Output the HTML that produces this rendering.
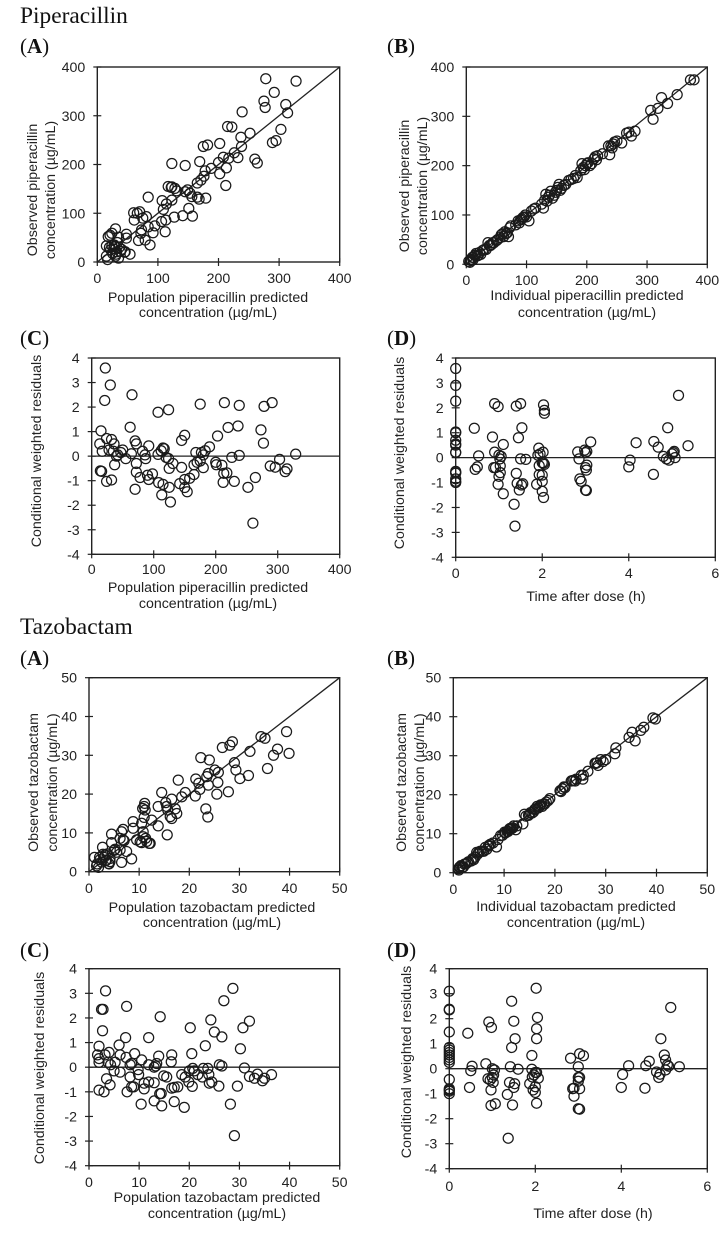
<!DOCTYPE html>
<html lang="en">
<head>
<meta charset="utf-8">
<title>Piperacillin and tazobactam diagnostic plots</title>
<style>
html,body{margin:0;padding:0;background:#fff;width:727px;height:1233px;overflow:hidden}
svg{display:block;position:absolute;left:0;top:0}
text{font-family:"Liberation Sans",sans-serif;fill:#222}
.head{font-family:"Liberation Serif",serif;fill:#111}
</style>
</head>
<body>
<svg id="figure" width="727" height="1233" viewBox="0 0 727 1233" xmlns="http://www.w3.org/2000/svg">
<text class="head" x="20" y="23" font-size="23.4">Piperacillin</text>
<text class="head" x="20" y="53" font-size="21">(<tspan font-weight="bold">A</tspan>)</text>
<text class="head" x="387" y="53" font-size="21">(<tspan font-weight="bold">B</tspan>)</text>
<text class="head" x="20" y="345" font-size="21">(<tspan font-weight="bold">C</tspan>)</text>
<text class="head" x="387" y="345" font-size="21">(<tspan font-weight="bold">D</tspan>)</text>
<text class="head" x="20" y="634" font-size="23.4">Tazobactam</text>
<text class="head" x="20" y="665" font-size="21">(<tspan font-weight="bold">A</tspan>)</text>
<text class="head" x="387" y="665" font-size="21">(<tspan font-weight="bold">B</tspan>)</text>
<text class="head" x="20" y="957" font-size="21">(<tspan font-weight="bold">C</tspan>)</text>
<text class="head" x="387" y="957" font-size="21">(<tspan font-weight="bold">D</tspan>)</text>
</svg>
<script>
// Tick labels
const pipConcTicks = [0,100,200,300,400];
const tazConcTicks = [0,10,20,30,40,50];
const residualTicks = [-4,-3,-2,-1,0,1,2,3,4];
const timeTicks = [0,2,4,6];

// Piperacillin A: population predicted vs observed
const pipAPred = [278,328,292,275,277,311,314,239,303,215,222,252,237,289,295,202,182,175,238,226,232,217,208,200,188,213,202,260,264,123,145,169,178,176,171,165,212,117,123,128,149,131,145,153,156,165,168,179,84,107,123,114,109,151,60,66,70,61,81,75,141,157,127,113,106,95,84,112,92,73,72,68,79,87,30,48,48,21,24,15,35,29,24,32,46,54,40,15,17,35,31,122,20,28,38,30,22,25,45,33,18,27,36];
const pipAObs = [376,371,348,330,317,323,306,308,272,278,277,264,256,245,249,243,240,237,237,224,214,213,215,204,192,193,181,211,203,202,198,206,187,176,168,162,157,155,154,151,148,146,144,141,134,133,129,131,133,126,127,119,108,110,101,100,103,86,93,90,95,94,92,86,83,74,72,62,60,66,59,44,45,35,68,57,49,55,59,33,51,31,33,21,21,16,26,12,5,8,16,153,30,35,22,12,25,18,20,40,52,27,30];

// Piperacillin B: individual predicted vs observed
const pipBPred = [6,7,8,10,12,14,16,18,20,24,27,30,36,38,40,44,46,52,56,60,62,64,66,70,72,74,88,90,92,94,96,100,104,108,112,128,130,132,134,136,138,140,143,146,150,154,156,158,162,170,178,184,190,192,194,198,202,205,208,214,216,218,226,238,240,242,244,250,258,266,274,280,306,310,318,324,334,350,372,378,4,11,15,22,33,42,50,58,68,82,86,98,115,125,148,152,165,174,181,196,200,212,236,246,270];
const pipBObs = [4,10,8,14,14,18,22,17,18,20,28,30,44,38,38,44,44,50,54,62,56,66,62,56,74,78,84,90,92,95,96,96,88,108,112,114,130,142,128,136,140,148,134,140,150,162,150,154,160,170,174,176,190,204,196,200,206,200,204,218,212,220,224,222,240,236,244,250,246,266,260,270,312,294,316,338,326,344,374,374,6,9,18,24,30,40,48,60,64,80,88,100,114,122,146,156,162,172,180,192,204,214,240,248,268];

// Piperacillin C: population predicted vs CWRES
const pipCPred = [22,30,21,65,107,124,175,214,238,278,291,15,62,220,236,273,277,203,150,145,70,72,13,24,32,36,28,17,35,50,47,42,40,64,55,37,72,72,78,70,16,14,24,32,82,86,87,92,107,112,115,117,120,124,125,131,90,92,98,108,113,115,125,127,142,145,150,150,154,158,165,165,168,170,175,177,180,183,190,180,200,201,210,213,218,212,230,226,238,252,264,260,288,296,303,312,315,329];
const pipCRes = [3.59,2.9,2.27,2.5,1.79,1.89,2.12,2.18,2.07,2.03,2.18,1.03,1.18,1.17,1.23,1.07,0.53,0.82,0.85,0.64,0.62,0.5,0.5,0.72,0.68,0.5,0.25,0.2,0.2,0.25,0.15,0.05,0,0.1,-0.1,-0.35,-0.3,-0.65,-0.87,-1.35,-0.62,-0.6,-1.03,-0.97,0.2,0.05,-0.1,0.42,0.07,0.22,0.33,0.3,-0.05,-0.1,-0.5,-0.3,-0.78,-0.95,-0.72,-1.08,-1.58,-1.15,-1.27,-1.87,-1.12,-0.46,-0.95,-1.28,-1.45,-0.9,-0.75,-0.35,0.15,-0.25,-0.2,0.15,0.05,0.22,0.38,-0.47,-0.25,-0.35,-0.37,-0.7,-0.68,-1.07,-1.03,-0.05,0.03,-1.27,-0.87,-2.73,-0.4,-0.45,-0.13,-0.63,-0.52,0.08];

// Piperacillin D: time vs CWRES
const pipDTime = [0,0,0,0,0,0,0,0,0,0,0,0,0,0,0,0,0.43,0.45,0.5,0.53,0.85,0.9,0.98,0.9,1,1.05,1.1,0.88,0.92,1.03,1.03,1,0.98,1.1,1.02,1.35,1.37,1.4,1.42,1.4,1.5,1.53,1.45,1.5,1.62,1.47,1.52,1.55,1.87,1.9,1.92,1.95,2.02,1.93,1.93,2,2,2,2.03,2.03,2.05,2.05,2,2.03,2.05,2.82,2.87,2.9,2.85,2.98,3,3.03,3,3.03,3.02,3,3.02,3.12,4,4.03,4.17,4.57,4.58,4.68,4.8,4.87,4.9,4.93,5,5.03,5.05,5.07,5.15,5.37];
const pipDRes = [3.58,2.9,2.27,1.03,1,0.7,0.55,0.5,0.22,0.2,-0.55,-0.6,-0.85,-0.95,-1,-0.62,1.18,-0.47,-0.37,0.07,0.83,2.17,2.05,0.22,0.1,0.05,0.53,-0.4,-0.4,-0.33,-0.6,-0.75,-1.07,-1.45,-0.05,-1.87,-2.75,-0.63,-1.03,2.07,2.17,1.2,0.8,-0.05,-0.07,-1.3,-1.1,-1.05,-1.07,0.1,0.38,0.15,0.22,-0.32,-0.68,-0.7,-0.95,-1.35,-1.6,2.12,1.9,1.78,-0.2,-0.22,-0.27,0.23,-0.85,-0.95,-0.05,0.3,0.2,0.25,-0.4,-0.3,-0.5,-1.3,-1.32,0.63,-0.37,-0.1,0.6,-0.67,0.65,0.42,0.05,-0.05,1.2,-0.1,0.15,0.2,0.25,0,2.5,0.48];

// Tazobactam A: population predicted vs observed
const tazAPred = [39.4,39.9,37.6,36.8,35.6,34.3,35.1,32.1,31.8,30.1,29.3,29,28.6,28.1,26.6,27.8,22.3,24,25.1,23.8,25.8,23.5,25.7,25.5,21.3,17.8,21.9,23.8,22.1,21.2,23.3,23.7,14.5,19.2,18.5,16.5,15.3,11.1,11,13.8,15.5,15.7,17.2,17.5,16.2,16.5,11.2,10.7,11,12.5,13.8,15.6,8.8,8.8,10.5,10.8,10.8,10.2,9.5,11.3,12.2,12,4.5,6.8,6.5,6.2,6.8,4.5,2.7,5.2,6.2,7.5,8.5,6.5,1.1,2.1,3.2,4.2,3.5,3.9,1.5,1.9,4.2,2.5,3,3.3,2.8,1.6,5.5,4,5,7,10.5,11.5,2.2,3.7];
const tazAObs = [36.1,30.5,31.6,30,26.6,34.8,34.4,31,24.8,24,26.2,28.1,33.5,32.6,32,20.6,29.4,28.8,26.2,25.3,25.6,24.5,23,20,23.9,23.6,22.8,22.3,21.2,19.5,16.2,14.1,20.4,20.4,19.3,18.7,17.8,17.6,16.8,16.8,16.8,15.9,16.2,15,14.2,13.7,15.9,16.3,14,13.3,11.8,9.5,12.9,11.2,12.5,10.3,9,7.7,8.2,8.6,7.3,7.3,9.7,10.9,10.3,8.6,8.2,7.5,6.3,5.8,5.6,5.2,3.3,2.4,3.7,3.7,4.3,3.4,3,2.1,1.5,1.1,2.6,2.5,3.7,2.8,4.5,2,5,2,5.5,8,7.5,7.8,3.1,4.6];

// Tazobactam B: individual predicted vs observed
const tazBPred = [1,1.1,1.3,1.5,2,2.5,3,3.5,4,4.3,4.6,4.8,5,6,6.3,6.6,7,7.3,8.5,8.8,9.3,10.3,10.8,11,11.3,11.7,12.3,12.5,13.7,14,14.3,15,15.5,16,16.5,17,17.5,18,18.7,19,21.2,21.5,22,23.2,23.7,24,25.5,25.6,26.5,28,28.5,29,30,31.8,32,34.6,35.2,35.8,36.9,37.5,39.3,39.8,1.2,1.8,2.2,2.8,3.8,5.3,5.7,6.9,7.8,9.7,10.1,10.6,11.1,11.5,11.9,14.8,15.2,15.8,16.2,16.7,17.2,17.8,18.3,21,21.8,23.4,24.2,25.2,27.9,28.3,29.5];
const tazBObs = [1,0.7,1.5,1.8,1.5,2.3,2.8,3,3.3,4,5.2,4.8,5.2,5.5,6.5,6,7,7.3,6.6,8.5,9.5,10.2,10.6,11,11.4,11.5,11,12,12.5,15,14.5,15,15.3,16.2,17,17,17,17.6,18.5,19,20.8,21.5,21.8,23.5,23.7,23.5,24,25,26,28,27.5,29,29,30.5,32,34.7,36,33.8,36.5,37.3,39.7,39.4,1.4,1.4,2.2,2.6,3.6,5.5,5.5,6.8,7.6,9.6,10.4,10.6,11.3,11.3,12,14.7,15.4,15.6,16.4,16.6,17.4,17.6,18.1,21,22,23.6,24,25,28.1,28.2,28.5];

// Tazobactam C: population predicted vs CWRES
const tazCPred = [3.3,2.5,2.8,7.5,14.2,2.7,7.3,11.9,2,6,1.7,2,2,3.2,4,3.8,4.3,5.2,6.2,7.4,8.2,8.5,9.1,10.5,11.9,13,13.3,13.5,13.9,16.5,16.4,20.5,20.2,23.2,24.3,25,26.5,26.9,28.7,30.7,32,30.2,26,26.5,31,32,33,33.6,34.6,35,36.4,29.6,28.2,29,25.9,24.5,24,23.9,23.7,22.8,22.6,21.7,21,20.7,20,20.6,19.9,19.2,18.5,19,17,14.5,13,14.1,14.4,10.4,7.6,8.2,8.5,8.9,11,11,11.9,13,14.9,15.5,16.5,17,17.7,9.8,9.9,5,6.2,2,3,3.5,4.2];
const tazCRes = [3.1,2.35,2.35,2.47,2.05,1.48,1.2,1.2,0.85,0.9,0.5,0.35,0.2,0.5,0.6,0.2,0.1,0.2,0.5,0.4,0.1,0.15,0.55,0.3,0.1,0,0.05,0.15,0.45,0.5,0.22,0.55,1.6,0.87,1.92,1.43,1.23,2.7,3.2,1.6,1.87,0.75,0.1,0.05,-0.03,-0.38,-0.45,-0.28,-0.55,-0.45,-0.3,-0.77,-1.5,-2.78,-0.77,-0.6,-0.65,-0.3,-0.05,-0.05,-0.4,-0.3,-0.15,-0.05,-0.15,-0.78,-0.6,-0.4,-0.3,-1.63,-1.4,-1.57,-1.37,-1.08,-1.07,-1.5,-1,-0.4,-0.8,-0.8,-0.88,-0.65,-0.6,-0.63,-0.35,-0.4,-0.85,-0.82,-0.8,-0.1,-0.3,-0.15,-0.2,-0.93,-1,-0.47,-0.72];

// Tazobactam D: time vs CWRES
const tazDTime = [0,0,0,0,0,0,0,0,0,0,0,0,0,0,0,0,0.43,0.47,0.5,0.53,0.85,0.92,0.98,0.97,1.07,0.97,1,1.05,0.9,0.95,1,1.03,1.02,1.35,1.37,1.42,1.4,1.45,1.45,1.5,1.53,1.47,1.52,1.5,1.6,1.87,1.92,1.93,1.92,1.97,2,2.02,2.05,2.03,2.03,2,2,2.03,2.03,2.07,1.95,2.82,2.87,2.9,2.9,3,3.03,3.12,3,3.03,3,3.03,3,3.03,4,4.03,4.17,4.55,4.57,4.65,4.82,4.9,4.87,4.92,5,5.03,5.03,5.07,5.1,5.15,5.35];
const tazDRes = [3.1,2.38,2.35,1.47,0.85,0.75,0.65,0.55,0.45,0.35,0.25,-0.43,-0.8,-0.85,-0.9,-1,1.42,-0.75,-0.08,0.1,0.2,1.87,1.65,-1.47,-1.4,-0.85,0,-0.05,-0.4,-0.45,-0.35,-0.25,-0.55,-1.03,-2.78,0.08,-0.55,2.7,0.85,1.9,1.2,-1.45,-0.6,-0.75,-0.02,-0.6,0.53,-0.33,-0.02,-0.25,-0.15,3.22,2.05,1.6,1.2,-0.72,-0.95,-1.38,-0.15,-0.38,-0.85,0.42,-0.8,-0.78,-1.1,0.08,0.6,0.52,-0.35,-0.35,-0.5,-0.8,-1.6,-1.62,-0.75,-0.23,0.12,-0.78,0.12,0.3,-0.13,-0.22,-0.35,1.2,0.55,0.35,-0.05,0.15,0.1,2.45,0.08];

const panels = [
  {id:'piperacillin-a',l:97.3,r:339.7,t:67,b:262,xs:pipAPred,ys:pipAObs,xt:pipConcTicks,yt:pipConcTicks,ref:'diag',yl:[[32,'Observed piperacillin'],[50,'concentration (µg/mL)']],yc:190,xl:['Population piperacillin predicted','concentration (µg/mL)'],xc:208,xb:[302,317],tb:283},
  {id:'piperacillin-b',l:466.3,r:707.3,t:67,b:264.3,xs:pipBPred,ys:pipBObs,xt:pipConcTicks,yt:pipConcTicks,ref:'diag',yl:[[404,'Observed piperacillin'],[422,'concentration (µg/mL)']],yc:186,xl:['Individual piperacillin predicted','concentration (µg/mL)'],xc:587,xb:[300,317],tb:285},
  {id:'piperacillin-c',l:91.7,r:339.7,t:358,b:554.3,xs:pipCPred,ys:pipCRes,xt:pipConcTicks,yt:residualTicks,ref:'zero',yl:[[36,'Conditional weighted residuals']],yc:451,xl:['Population piperacillin predicted','concentration (µg/mL)'],xc:208,xb:[592,608],tb:574},
  {id:'piperacillin-d',l:455.7,r:715.3,t:358,b:557.3,xs:pipDTime,ys:pipDRes,xt:timeTicks,yt:residualTicks,ref:'zero',yl:[[399,'Conditional weighted residuals']],yc:453,xl:['Time after dose (h)'],xc:586,xb:[601],tb:578},
  {id:'tazobactam-a',l:89,r:339.7,t:677.7,b:871.7,xs:tazAPred,ys:tazAObs,xt:tazConcTicks,yt:tazConcTicks,ref:'diag',yl:[[33,'Observed tazobactam'],[52,'concentration (µg/mL)']],yc:782.5,xl:['Population tazobactam predicted','concentration (µg/mL)'],xc:212,xb:[912,927],tb:893},
  {id:'tazobactam-b',l:453.3,r:707.3,t:677.7,b:872.7,xs:tazBPred,ys:tazBObs,xt:tazConcTicks,yt:tazConcTicks,ref:'diag',yl:[[401,'Observed tazobactam'],[419,'concentration (µg/mL)']],yc:782.5,xl:['Individual tazobactam predicted','concentration (µg/mL)'],xc:576,xb:[911,927],tb:894},
  {id:'tazobactam-c',l:89,r:339.7,t:968.7,b:1165.7,xs:tazCPred,ys:tazCRes,xt:tazConcTicks,yt:residualTicks,ref:'zero',yl:[[39,'Conditional weighted residuals']],yc:1068,xl:['Population tazobactam predicted','concentration (µg/mL)'],xc:217,xb:[1202,1218],tb:1187},
  {id:'tazobactam-d',l:449.3,r:707.3,t:968.7,b:1168.7,xs:tazDTime,ys:tazDRes,xt:timeTicks,yt:residualTicks,ref:'zero',yl:[[406,'Conditional weighted residuals']],yc:1062,xl:['Time after dose (h)'],xc:593,xb:[1218],tb:1191}
];

const NS = 'http://www.w3.org/2000/svg';
const figure = document.getElementById('figure');
function make(parent, tag, attrs, content) {
  const node = document.createElementNS(NS, tag);
  for (const k in attrs) node.setAttribute(k, attrs[k]);
  if (content !== undefined) node.textContent = content;
  parent.appendChild(node);
  return node;
}
const INK = '#222';
const FONT = 14.2;

panels.forEach(function (p) {
  const xMin = p.xt[0], xMax = p.xt[p.xt.length - 1];
  const yMin = p.yt[0], yMax = p.yt[p.yt.length - 1];
  const sx = function (v) { return p.l + (v - xMin) / (xMax - xMin) * (p.r - p.l); };
  const sy = function (v) { return p.b - (v - yMin) / (yMax - yMin) * (p.b - p.t); };

  const g = make(figure, 'g', {});
  
  

  const frame = make(g, 'rect', {x:p.l, y:p.t, width:p.r - p.l, height:p.b - p.t, fill:'none', stroke:INK, 'stroke-width':1.4});
  
  

  const refLine = p.ref === 'diag'
    ? make(g, 'line', {x1:sx(xMin), y1:sy(yMin), x2:sx(xMax), y2:sy(yMax), stroke:INK, 'stroke-width':1.3})
    : make(g, 'line', {x1:p.l, y1:sy(0), x2:p.r, y2:sy(0), stroke:INK, 'stroke-width':1.3});
  
  

  p.xt.forEach(function (v) {
    const tick = make(g, 'line', {x1:sx(v), y1:p.b - 4, x2:sx(v), y2:p.b + 4, stroke:INK, 'stroke-width':1.2});
    
    
    const label = make(g, 'text', {x:sx(v), y:p.tb, 'font-size':FONT, 'text-anchor':'middle'}, String(v));
    
    
  });

  p.yt.forEach(function (v) {
    const tick = make(g, 'line', {x1:p.l - 4, y1:sy(v), x2:p.l + 4, y2:sy(v), stroke:INK, 'stroke-width':1.2});
    
    
    const label = make(g, 'text', {x:p.l - 12, y:sy(v) + 5, 'font-size':FONT, 'text-anchor':'end'}, String(v));
    
    
  });

  p.xs.forEach(function (x, i) {
    const pt = make(g, 'circle', {cx:sx(x), cy:sy(p.ys[i]), r:5, fill:'none', stroke:'#1a1a1a', 'stroke-width':1.25});
    
    
  });

  p.xl.forEach(function (line, i) {
    const title = make(g, 'text', {x:p.xc, y:p.xb[i], 'font-size':FONT, 'text-anchor':'middle'}, line);
    
    
  });

  p.yl.forEach(function (entry) {
    const title = make(g, 'text', {transform:'translate(' + (entry[0] + 5) + ',' + p.yc + ') rotate(-90)', 'font-size':FONT, 'text-anchor':'middle'}, entry[1]);
    
    
  });
});
</script>
</body>
</html>
